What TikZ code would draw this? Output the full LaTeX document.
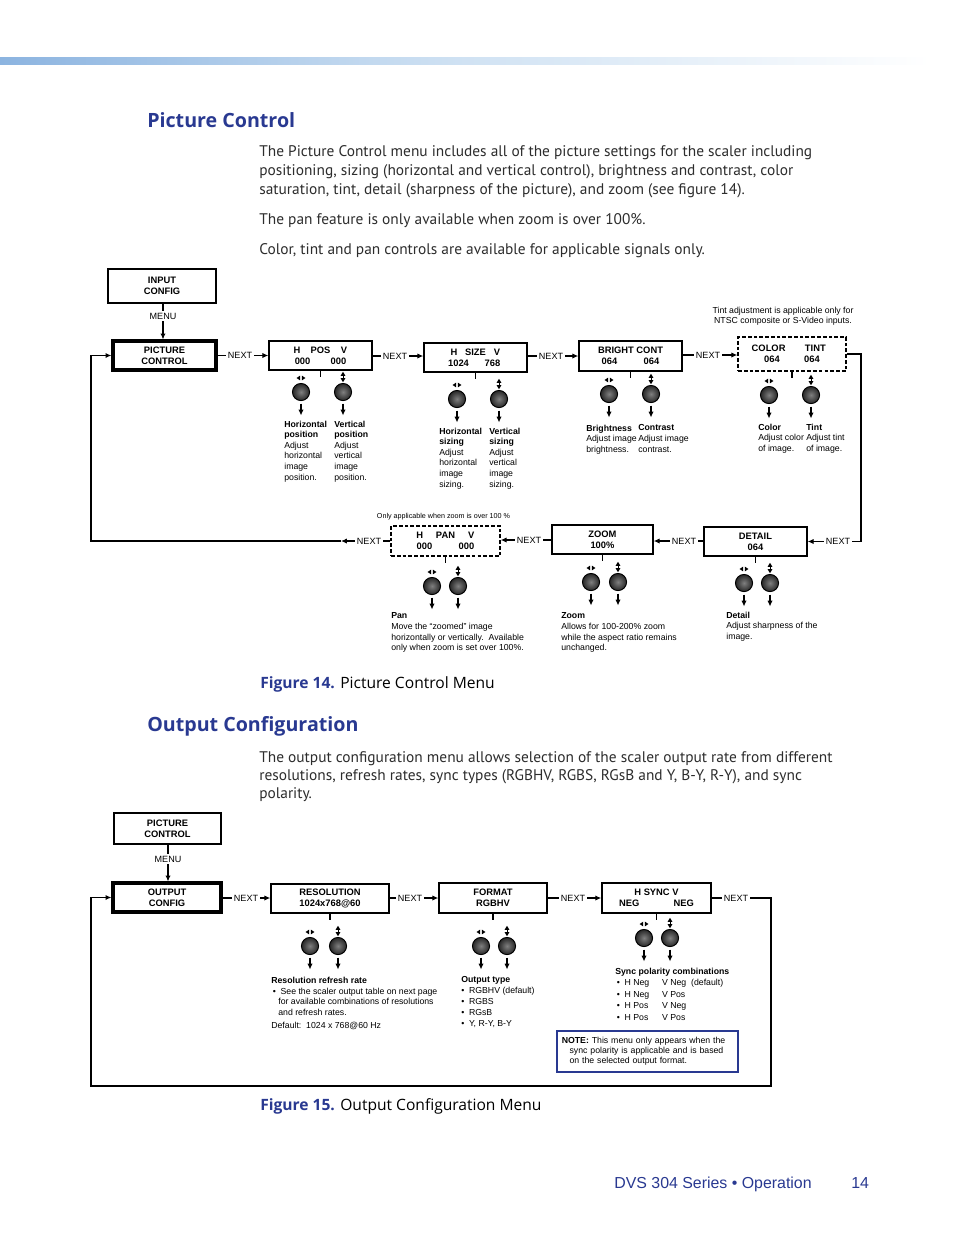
\documentclass[tikz,border=0pt]{standalone}
\usepackage{fontspec}
\setmainfont{PT Sans}
\newfontfamily\diafont{Liberation Sans}
\newfontfamily\headfont{Open Sans}
\usetikzlibrary{arrows.meta}
\tikzset{>={Latex[width=3.4pt,length=3.8pt]}}
\definecolor{extblue}{RGB}{41,57,145}
\definecolor{bodygray}{RGB}{45,45,45}
\definecolor{barblue}{RGB}{140,180,224}
\definecolor{barmid}{RGB}{208,226,243}
\def\pxu{0.6415pt}

\tikzset{
  boxsize/.style 2 args={minimum width=#1*\pxu, minimum height=#2*\pxu},
  menubox/.style={draw, fill=white, line width=0.9pt, inner sep=0pt, align=center,
    font=\diafont\bfseries\fontsize{6}{7}\selectfont},
  mainbox/.style={menubox, line width=2pt},
  optbox/.style={menubox, dash pattern=on 2.4pt off 1.3pt},
  nextlbl/.style={font=\diafont\fontsize{5.8}{7}\selectfont, inner sep=1.2pt},
  desc/.style={font=\diafont\fontsize{5.6}{6.8}\selectfont, align=left, anchor=north west, inner sep=0pt},
  note/.style={font=\diafont\fontsize{5.6}{6.6}\selectfont, align=center, inner sep=0pt},
  knob/.style={circle, draw=black, line width=0.6pt, inner sep=0pt, minimum size=11pt,
    inner color=black!50, outer color=black!85},
  conn/.style={line width=0.7pt},
  loopline/.style={line width=0.9pt},
  body/.style={font=\fontsize{9.87}{12}\selectfont, text=bodygray, anchor=base west, inner sep=0pt},
  heading/.style={font=\headfont\bfseries\fontsize{12.6}{15}\selectfont, text=extblue, anchor=base west, inner sep=0pt},
  caption/.style={font=\headfont\fontsize{10}{12}\selectfont, anchor=base west, inner sep=0pt},
  footer/.style={font=\diafont\fontsize{10.2}{12}\selectfont, text=extblue, anchor=base west, inner sep=0pt},
  hicon/.pic={
    \fill (-0.8,-2.4) -- (-0.8,2.4) -- (-4.4,0) -- cycle;
    \fill (0.8,-2.4) -- (0.8,2.4) -- (4.4,0) -- cycle;},
  vicon/.pic={
    \fill (-2.4,-1.2) -- (2.4,-1.2) -- (0,-5.2) -- cycle;
    \fill (-2.4,1.2) -- (2.4,1.2) -- (0,5.2) -- cycle;
    \draw[line width=0.4pt] (0,-1.5) -- (0,1.5);}
}

% two knobs with their icons and arrows
\newcommand{\knobpair}[4]{%
  \node[knob] (#1-kh) at (#2,#4) {};
  \node[knob] (#1-kv) at (#3,#4) {};
  \pic at (#2,#4-14) {hicon};
  \pic at (#3,#4-15) {vicon};
  \draw[conn,->] ([yshift=-1.6pt]#1-kh.south) -- ++(0,12);
  \draw[conn,->] ([yshift=-1.6pt]#1-kv.south) -- ++(0,12);
}

\begin{document}
\begin{tikzpicture}[x=0.6415pt, y=-0.6415pt]
  \useasboundingbox (0,0) rectangle (954,1235);
  \fill[white] (0,0) rectangle (954,1235);

  % top bar
  \shade[left color=barblue, right color=white, middle color=barmid] (0,57) rectangle (930,64);

  % Picture Control text
  \node[heading] (h1) at (147,127) {Picture Control};
  \node[body] (t1a) at (259,156) {The Picture Control menu includes all of the picture settings for the scaler including};
  \node[body] (t1b) at (259,175) {positioning, sizing (horizontal and vertical control), brightness and contrast, color};
  \node[body] (t1c) at (259,194) {saturation, tint, detail (sharpness of the picture), and zoom (see figure 14).};
  \node[body] (t1d) at (259,224) {The pan feature is only available when zoom is over 100\%.};
  \node[body] (t1e) at (259,254) {Color, tint and pan controls are available for applicable signals only.};

  % upper row of menus
  \node[menubox, boxsize={108}{34}] (ic) at (162,286) {INPUT\\CONFIG};
  \node[nextlbl] (m1) at (163,316) {MENU};
  \node[mainbox, boxsize={103}{29}] (pc) at (164.5,355.5) {PICTURE\\CONTROL};
  \node[menubox, boxsize={103}{29}] (hpos) at (320.5,355.5)
    {\makebox[14pt]{H}\makebox[16pt]{POS}\makebox[14pt]{V}\\\makebox[23pt]{000}\makebox[23pt]{000}};
  \node[menubox, boxsize={103}{29}] (hsize) at (475.5,357.5)
    {\makebox[12pt]{H}\makebox[15.6pt]{SIZE}\makebox[12pt]{V}\\\makebox[21.8pt]{1024}\makebox[21.8pt]{768}};
  \node[menubox, boxsize={103}{30}] (bright) at (630.5,356)
    {BRIGHT CONT\\\makebox[27pt]{064}\makebox[27pt]{064}};
  \node[optbox, boxsize={108}{34}] (color) at (792,354)
    {\makebox[30pt]{COLOR}\makebox[30pt]{TINT}\\\makebox[25.6pt]{064}\makebox[25.6pt]{064}};
  \node[note] (tnote) at (783,316) {Tint adjustment is applicable only for\\NTSC composite or S-Video inputs.};

  \node[nextlbl] (n1) at (240,355.5) {NEXT};
  \node[nextlbl] (n2) at (395,356) {NEXT};
  \node[nextlbl] (n3) at (551,356) {NEXT};
  \node[nextlbl] (n4) at (708,355) {NEXT};

  \draw[conn] (ic.south -| m1) -- (m1.north);
  \draw[conn,->] (m1.south) -- (m1.south |- pc.north);
  \draw[conn] (pc.east |- n1) -- (n1.west);
  \draw[conn,->] (n1.east) -- (n1.east -| hpos.west);
  \draw[conn] (hpos.east |- n2) -- (n2.west);
  \draw[conn,->] (n2.east) -- (n2.east -| hsize.west);
  \draw[conn] (hsize.east |- n3) -- (n3.west);
  \draw[conn,->] (n3.east) -- (n3.east -| bright.west);
  \draw[conn] (bright.east |- n4) -- (n4.west);
  \draw[conn,->] (n4.east) -- (n4.east -| color.west);

  % lower row of menus
  \node[menubox, boxsize={103}{29}] (detail) at (755.5,541.5) {DETAIL\\064};
  \node[menubox, boxsize={101}{29}] (zoom) at (602.5,539.5) {ZOOM\\100\%};
  \node[optbox, boxsize={109}{30}] (pan) at (445.5,541)
    {\makebox[12pt]{H}\makebox[21pt]{PAN}\makebox[12pt]{V}\hspace{3pt}\\\makebox[27pt]{000}\makebox[27pt]{000}\hspace{5pt}};
  \node[note, font=\diafont\fontsize{4.6}{5.5}\selectfont] (pnote) at (443.5,517) {Only applicable when zoom is over 100 \%};

  \node[nextlbl] (n5) at (838,541.5) {NEXT};
  \node[nextlbl] (n6) at (684,541) {NEXT};
  \node[nextlbl] (n7) at (529,540) {NEXT};
  \node[nextlbl] (n8) at (369,541) {NEXT};
  \coordinate (r1) at (861,354);
  \coordinate (r2) at (861,541.5);
  \coordinate (l0) at (341,541);
  \coordinate (l1) at (91,541);

  \draw[conn] (color.east) -- (r1) -- (r2) -- (n5.east);
  \draw[conn,->] (n5.west) -- (n5.west -| detail.east);
  \draw[conn] (detail.west |- n6) -- (n6.east);
  \draw[conn,->] (n6.west) -- (n6.west -| zoom.east);
  \draw[conn] (zoom.west |- n7) -- (n7.east);
  \draw[conn,->] (n7.west) -- (n7.west -| pan.east);
  \draw[conn] (pan.west |- n8) -- (n8.east);
  \draw[conn,->] (n8.west) -- (l0);
  \draw[loopline,->] (l0) -- (l1) |- (pc.west);

  % knobs
  \foreach \b in {hpos,hsize,bright,color,pan,zoom,detail}
    \draw[conn] (\b.south) -- ++(0,6);
  \knobpair{hpos}{301}{343}{392}
  \knobpair{hsize}{457}{499}{399}
  \knobpair{bright}{609}{651}{394}
  \knobpair{color}{769}{811}{395}
  \knobpair{pan}{432}{458}{586}
  \knobpair{zoom}{591}{618}{582}
  \knobpair{detail}{744}{770}{583}

  % descriptions
  \node[desc] (dhpos) at (284,420.5) {\textbf{Horizontal}\\\textbf{position}\\Adjust\\horizontal\\image\\position.};
  \node[desc] (dvpos) at (334,420.5) {\textbf{Vertical}\\\textbf{position}\\Adjust\\vertical\\image\\position.};
  \node[desc] (dhsize) at (439,427.5) {\textbf{Horizontal}\\\textbf{sizing}\\Adjust\\horizontal\\image\\sizing.};
  \node[desc] (dvsize) at (489,427.5) {\textbf{Vertical}\\\textbf{sizing}\\Adjust\\vertical\\image\\sizing.};
  \node[desc] (dbright) at (586,424.5) {\textbf{Brightness}\\Adjust image\\brightness.};
  \node[desc] (dcont) at (638,424.5) {\textbf{Contrast}\\Adjust image\\contrast.};
  \node[desc] (dcolor) at (758,423.5) {\textbf{Color}\\Adjust color\\of image.};
  \node[desc] (dtint) at (806,423.5) {\textbf{Tint}\\Adjust tint\\of image.};
  \node[desc] (dpan) at (391,612.5) {\textbf{Pan}\\Move the “zoomed” image\\horizontally or vertically.\ \ Available\\only when zoom is set over 100\%.};
  \node[desc] (dzoom) at (561,612.5) {\textbf{Zoom}\\Allows for 100-200\% zoom\\while the aspect ratio remains\\unchanged.};
  \node[desc] (ddetail) at (726,611.5) {\textbf{Detail}\\Adjust sharpness of the\\image.};

  \node[caption] (cap14) at (260,688) {\textcolor{extblue}{\bfseries Figure 14.} Picture Control Menu};

  % Output Configuration text
  \node[heading] (h2) at (147,731) {Output Configuration};
  \node[body] (t2a) at (259,762) {The output configuration menu allows selection of the scaler output rate from different};
  \node[body] (t2b) at (259,780) {resolutions, refresh rates, sync types (RGBHV, RGBS, RGsB and Y, B-Y, R-Y), and sync};
  \node[body] (t2c) at (259,798) {polarity.};

  % output menus
  \node[menubox, boxsize={107}{31}] (pc2) at (167.5,828.5) {PICTURE\\CONTROL};
  \node[nextlbl] (m2) at (168,859) {MENU};
  \node[mainbox, boxsize={108}{29}] (oc) at (167,897.5) {OUTPUT\\CONFIG};
  \node[menubox, boxsize={118}{29}] (res) at (330,898.5) {RESOLUTION\\1024x768@60};
  \node[menubox, boxsize={108}{30}] (fmt) at (493,898) {FORMAT\\RGBHV};
  \node[menubox, boxsize={107}{30}] (sync) at (656.5,898) {H SYNC V\\\makebox[35pt]{NEG}\makebox[35pt]{NEG}};

  \node[nextlbl] (n9) at (246,898) {NEXT};
  \node[nextlbl] (n10) at (410,898) {NEXT};
  \node[nextlbl] (n11) at (573,898) {NEXT};
  \node[nextlbl] (n12) at (736,898) {NEXT};
  \coordinate (q1) at (771,898);
  \coordinate (q2) at (771,1086);
  \coordinate (q3) at (91,1086);

  \draw[conn] (pc2.south -| m2) -- (m2.north);
  \draw[conn,->] (m2.south) -- (m2.south |- oc.north);
  \draw[conn] (oc.east |- n9) -- (n9.west);
  \draw[conn,->] (n9.east) -- (n9.east -| res.west);
  \draw[conn] (res.east |- n10) -- (n10.west);
  \draw[conn,->] (n10.east) -- (n10.east -| fmt.west);
  \draw[conn] (fmt.east |- n11) -- (n11.west);
  \draw[conn,->] (n11.east) -- (n11.east -| sync.west);
  \draw[conn] (sync.east |- n12) -- (n12.west);
  \draw[loopline,->] (n12.east) -- (q1) -- (q2) -- (q3) |- (oc.west);

  \foreach \b in {res,fmt,sync}
    \draw[conn] (\b.south) -- ++(0,6);
  \knobpair{res}{310}{338}{946}
  \knobpair{fmt}{481}{507}{946}
  \knobpair{sync}{644}{670}{938}

  \node[desc, font=\diafont\fontsize{5.6}{7}\selectfont] (dres) at (271,976.5)
    {\textbf{Resolution refresh rate}\\\hspace*{1pt}•\hspace{3pt}See the scaler output table on next page\\\hspace*{4.5pt}for available combinations of resolutions\\\hspace*{4.5pt}and refresh rates.\\[1pt]Default:\ \ 1024 x 768@60 Hz};
  \node[desc, font=\diafont\fontsize{5.6}{7}\selectfont] (dfmt) at (461,976.5)
    {\textbf{Output type}\\•\hspace{3pt}RGBHV (default)\\•\hspace{3pt}RGBS\\•\hspace{3pt}RGsB\\•\hspace{3pt}Y, R-Y, B-Y};
  \node[desc, font=\diafont\fontsize{5.6}{7.4}\selectfont] (dsync) at (615,967.5)
    {\textbf{Sync polarity combinations}\\
     \makebox[30pt][l]{\hspace*{1pt}•\hspace{3pt}H Neg}V Neg\ \ (default)\\
     \makebox[30pt][l]{\hspace*{1pt}•\hspace{3pt}H Neg}V Pos\\
     \makebox[30pt][l]{\hspace*{1pt}•\hspace{3pt}H Pos}V Neg\\
     \makebox[30pt][l]{\hspace*{1pt}•\hspace{3pt}H Pos}V Pos};
  \node[draw=extblue, line width=1pt, fill=white, font=\diafont\fontsize{5.6}{6.7}\selectfont,
    align=left, text width=110pt, inner xsep=3.2pt, inner ysep=0pt, minimum height=41*\pxu,
    anchor=north west] (nbox) at (556,1030)
    {\textbf{NOTE:} This menu only appears when the\\\hspace*{5pt}sync polarity is applicable and is based\\\hspace*{5pt}on the selected output format.};

  \node[caption] (cap15) at (260,1110) {\textcolor{extblue}{\bfseries Figure 15.} Output Configuration Menu};

  % footer
  \node[footer] (ft) at (614,1188) {DVS 304 Series • Operation};
  \node[footer] (pg) at (851,1188) {14};
\end{tikzpicture}
\end{document}
